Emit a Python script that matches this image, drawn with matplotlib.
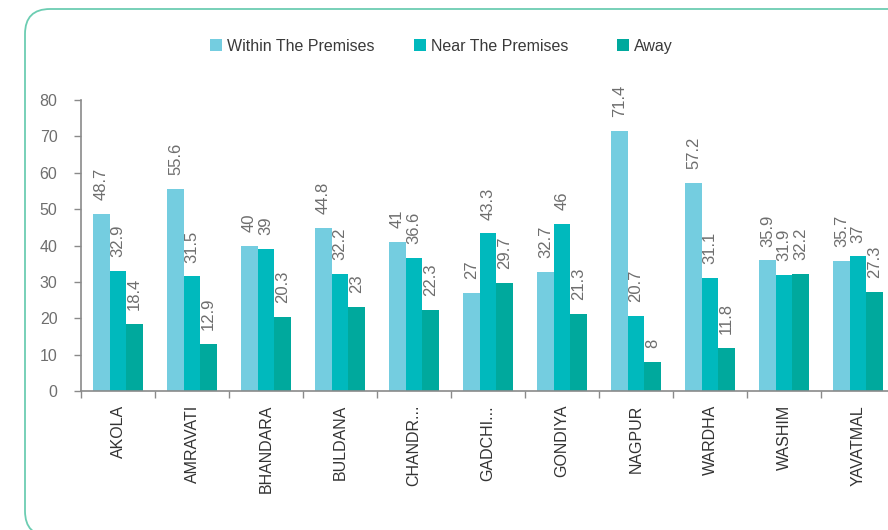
import numpy as np
import matplotlib

matplotlib.use("Agg")
import matplotlib.pyplot as plt
from matplotlib.patches import FancyBboxPatch, Rectangle

districts = ["AKOLA", "AMRAVATI", "BHANDARA", "BULDANA", "CHANDR...", "GADCHI...",
             "GONDIYA", "NAGPUR", "WARDHA", "WASHIM", "YAVATMAL"]
series_names = ["Within The Premises", "Near The Premises", "Away"]
within = [48.7, 55.6, 40, 44.8, 41, 27, 32.7, 71.4, 57.2, 35.9, 35.7]
near = [32.9, 31.5, 39, 32.2, 36.6, 43.3, 46, 20.7, 31.1, 31.9, 37]
away = [18.4, 12.9, 20.3, 23, 22.3, 29.7, 21.3, 8, 11.8, 32.2, 27.3]
y_ticks = [0, 10, 20, 30, 40, 50, 60, 70, 80]

colors = ["#74cde0", "#00b9bd", "#00a99d"]
text_grey = "#6e6e6e"
axis_grey = "#8a8a8a"

plt.rcParams["font.family"] = ["Liberation Sans", "DejaVu Sans"]

W, H = 888, 530
fig = plt.figure(figsize=(W / 100, H / 100), dpi=100)

# rounded frame around the whole chart, running off the right and bottom edges
# (drawn in inches so the corners stay circular)
frame = FancyBboxPatch((0.25, -0.06), 9.0, 5.21 + 0.06,
                       boxstyle="round,pad=0,rounding_size=0.25",
                       transform=fig.dpi_scale_trans, facecolor="none",
                       edgecolor="#6ccdb2", linewidth=1.3)
fig.patches.append(frame)

# plot area: group width 74 px, first group starting at x=81
left, right = 81, 81 + 74 * len(districts)
bottom, top = 391, 100
ax = fig.add_axes([left / W, 1 - bottom / H, (right - left) / W, (bottom - top) / H])

x = np.arange(len(districts))
bar_w = 0.223
for i, (vals, color) in enumerate(zip([within, near, away], colors)):
    pos = x + (i - 1) * bar_w
    ax.bar(pos, vals, width=bar_w, color=color, linewidth=0)
    for px, v in zip(pos, vals):
        ax.annotate(f"{v:g}", (px, v), xytext=(0, 10), textcoords="offset points",
                    rotation=90, ha="center", va="bottom", fontsize=12,
                    color=text_grey)

ax.set_xlim(-0.5, len(districts) - 0.5)
ax.set_ylim(0, 80)
ax.set_yticks(y_ticks)
ax.set_xticks(x)
ax.set_xticklabels(districts, rotation=90, fontsize=11.5, color="#333333")
ax.set_xticks(np.arange(len(districts) + 1) - 0.5, minor=True)
ax.tick_params(axis="x", which="major", length=0, pad=10)
ax.tick_params(axis="x", which="minor", length=5, color=axis_grey, width=1)
ax.tick_params(axis="y", length=5, color=axis_grey, width=1, labelsize=11.5,
               labelcolor=text_grey, pad=12)
for side in ("top", "right"):
    ax.spines[side].set_visible(False)
for side in ("left", "bottom"):
    ax.spines[side].set_color(axis_grey)
    ax.spines[side].set_linewidth(1.2)

# legend laid out in three equal-width columns
leg_y = 1 - 45 / H
for i, (name, color) in enumerate(zip(series_names, colors)):
    x0 = 210 + 203.5 * i
    fig.patches.append(Rectangle((x0 / W, leg_y - 6 / H), 12 / W, 12 / H,
                                 transform=fig.transFigure, facecolor=color,
                                 edgecolor="none"))
    fig.text((x0 + 17) / W, leg_y, name, ha="left", va="center_baseline",
             fontsize=11.5, color="#3a3a3a")

fig.savefig("out.png", dpi=100)
